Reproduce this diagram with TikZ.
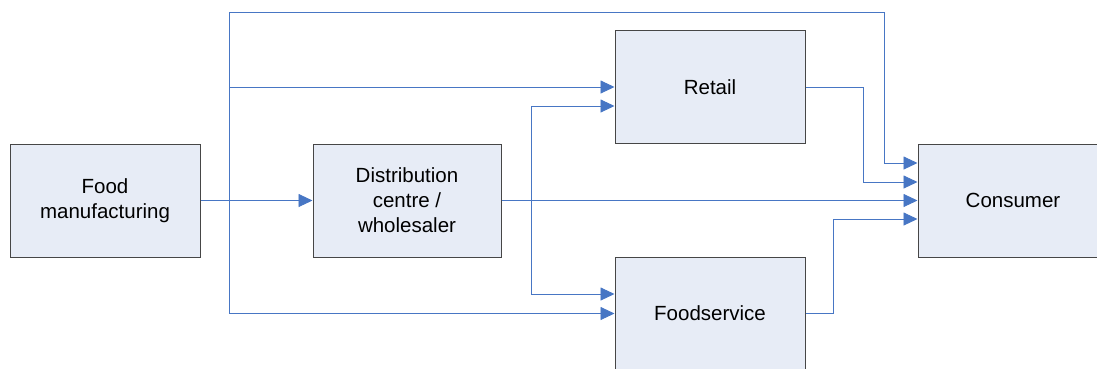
\documentclass[tikz,border=0pt]{standalone}
\usepackage{fontspec}
\setmainfont{Liberation Sans}
\usetikzlibrary{arrows.meta}
\definecolor{boxfill}{RGB}{231,236,246}
\definecolor{boxline}{RGB}{70,70,70}
\definecolor{conncol}{RGB}{71,118,196}
\tikzset{
  blk/.style={draw=boxline, line width=1pt, fill=boxfill, minimum width=190pt, minimum height=113pt, inner sep=0pt, align=center, font=\fontsize{20.5}{25}\selectfont},
  conn/.style={draw=conncol, line width=0.9pt, -{Triangle[length=14pt,width=13pt]}}
}
\begin{document}
\begin{tikzpicture}[x=1pt,y=-1pt]
\useasboundingbox (0,0) rectangle (1097,368);
\clip (0,0) rectangle (1097,368);
\node[blk] (fm) at (105,200.5) {Food\\manufacturing};
\node[blk, minimum width=188pt] (dc) at (407,200.5) {Distribution\\centre /\\wholesaler};
\node[blk] (ret) at (710,87) {Retail};
\node[blk] (fs) at (710,313.5) {Foodservice};
\node[blk] (cons) at (1013,200.5) {Consumer};
\coordinate (j) at (229,200.5);
\coordinate (k) at (531,200.5);
\coordinate (t) at (884,12);
\coordinate (r) at (863,0);
\coordinate (f) at (833,0);
\coordinate (c1) at ([yshift=37.5pt]cons.west);
\coordinate (c2) at ([yshift=18.5pt]cons.west);
\coordinate (c4) at ([yshift=-18.5pt]cons.west);
\coordinate (r2) at ([yshift=-19pt]ret.west);
\coordinate (f2) at ([yshift=19.5pt]fs.west);
% flows
\draw[conn] (fm.east) -- (dc.west);
\draw[conn] (j) |- (t) |- (c1);
\draw[conn] (j) |- (ret.west);
\draw[conn] (j) |- (fs.west);
\draw[conn] (dc.east) -- (cons.west);
\draw[conn] (k) |- (r2);
\draw[conn] (k) |- (f2);
\draw[conn] (ret.east) -| (r |- c2) -- (c2);
\draw[conn] (fs.east) -| (f |- c4) -- (c4);
\end{tikzpicture}
\end{document}
